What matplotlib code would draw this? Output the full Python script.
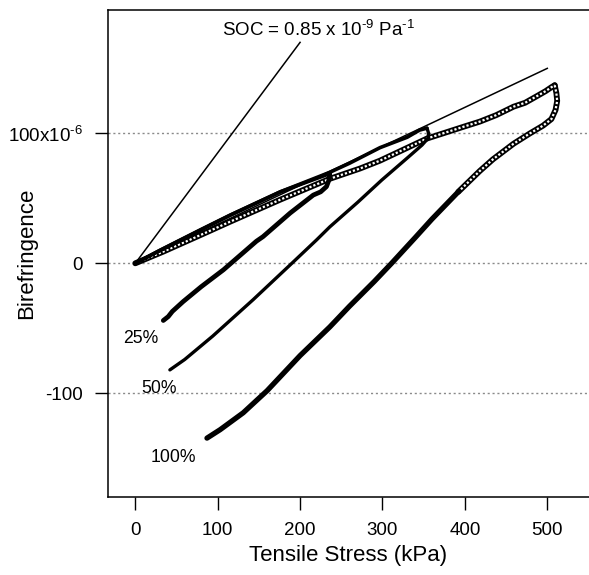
import numpy as np
import matplotlib
matplotlib.use("Agg")
import matplotlib.pyplot as plt

plt.rcParams['font.family'] = ['Liberation Sans', 'DejaVu Sans']
plt.rcParams['mathtext.fontset'] = 'custom'
plt.rcParams['mathtext.rm'] = 'Liberation Sans'

# stress in kPa, birefringence in units of 1e-6
load_25_x = [0, 30, 80, 115, 176, 236]
load_25_y = [0, 10, 26, 37, 55, 69]
unload_25_x = [236, 235, 232, 225, 216, 188, 155, 147, 107, 80, 58, 45, 40, 34]
unload_25_y = [69, 64, 59, 55, 52.5, 38.7, 20.5, 17, -5, -18, -29.5, -37, -41, -44]

load_50_x = [0, 30, 80, 115, 176, 236, 260, 297, 330, 345, 354]
load_50_y = [0, 10, 26, 37, 55, 70, 77, 89, 97, 102.5, 104]
unload_50_x = [354, 356, 355, 348, 330, 299, 270, 236, 220, 190, 143, 94, 60, 42]
unload_50_y = [104, 100, 96, 91, 81, 64, 47, 28, 18, 0, -28, -56, -74, -82]

load_100_x = [0, 34, 80, 115, 176, 236, 273, 297, 354, 398, 418, 438, 459, 473, 487, 498, 505, 509]
load_100_y = [0, 9, 22, 32, 49, 65, 73, 79, 96, 105, 109, 114, 120.5, 123.5, 128.5, 132.5, 135.5, 137]
unload_100_x = [509, 511, 512, 510, 505, 495, 479, 459, 434, 418, 392, 360, 340, 311,
                290, 260, 236, 200, 160, 131, 103, 87]
unload_100_y = [137, 131, 125, 118, 111, 106, 100, 92, 80, 71, 55, 34, 20, 0,
                -14, -33, -49, -71, -98, -115, -128, -134.5]
hollow_until = 10  # first points of the 100% unloading still show separate markers

soc_x = [0, 200]
soc_y = [0, 170]
ref_x = [0, 500]
ref_y = [0, 150]

strain_labels = ['25%', '50%', '100%']
strain_label_x = [-15.3, 7.8, 18.7]
strain_label_y = [-61.3, -100, -152.6]

x_ticks = [0, 100, 200, 300, 400, 500]
x_ticklabels = ['0', '100', '200', '300', '400', '500']
y_ticks = [-100, 0, 100]
y_ticklabels = ['-100', '0', '100x10$^{\\text{-6}}$']


def hollow(ax, x, y, z=3):
    # dense open squares read as a black tube with a broken white core
    ax.plot(x, y, color='black', lw=4.2, solid_joinstyle='round',
            solid_capstyle='round', zorder=z)
    ax.plot(x, y, color='white', lw=1.6, ls=(0, (1.0, 0.9)), zorder=z + 0.1)


def solid(ax, x, y, lw, z=4):
    ax.plot(x, y, color='black', lw=lw, solid_joinstyle='round',
            solid_capstyle='round', zorder=z)


fig = plt.figure(figsize=(5.89, 5.75), dpi=100)
ax = fig.add_axes([108 / 589, 78 / 575, 1 - 108 / 589, 487 / 575])

ax.set_xlim(-33.1, 550.6)
ax.set_ylim(-179.8, 194.9)

for yv in y_ticks:
    ax.axhline(yv, color='#8a8a8a', lw=1.0, ls=(0, (1.5, 2.0)), zorder=1)

hollow(ax, load_100_x, load_100_y)
hollow(ax, unload_100_x[:hollow_until + 1], unload_100_y[:hollow_until + 1])
solid(ax, unload_100_x[hollow_until:], unload_100_y[hollow_until:], 3.8)

solid(ax, load_25_x, load_25_y, 2.6)
solid(ax, unload_25_x, unload_25_y, 3.4)
solid(ax, load_50_x, load_50_y, 2.6)
solid(ax, unload_50_x, unload_50_y, 2.4)

ax.plot(soc_x, soc_y, color='black', lw=1.1, zorder=5)
ax.plot(ref_x, ref_y, color='black', lw=1.1, zorder=5)

ax.text(105.2, 174.8, 'SOC = 0.85 x 10$^{\\text{-9}}$ Pa$^{\\text{-1}}$',
        fontsize=13.5, ha='left', va='baseline')
for lab, lx, ly in zip(strain_labels, strain_label_x, strain_label_y):
    ax.text(lx, ly, lab, fontsize=12.7, ha='left', va='baseline')

ax.set_xticks(x_ticks)
ax.set_xticklabels(x_ticklabels)
ax.set_yticks(y_ticks)
ax.set_yticklabels(y_ticklabels)
ax.tick_params(direction='out', length=9.5, width=1.0, pad=8.5, labelsize=13.5)

for side in ['top', 'left', 'bottom']:
    ax.spines[side].set_linewidth(1.1)
ax.spines['right'].set_visible(False)

ax.set_xlabel('Tensile Stress (kPa)', fontsize=16, labelpad=4)
ax.set_ylabel('Birefringence', fontsize=16)
ax.yaxis.set_label_coords(-0.147, 0.5)

fig.savefig('out.png', dpi=100)
